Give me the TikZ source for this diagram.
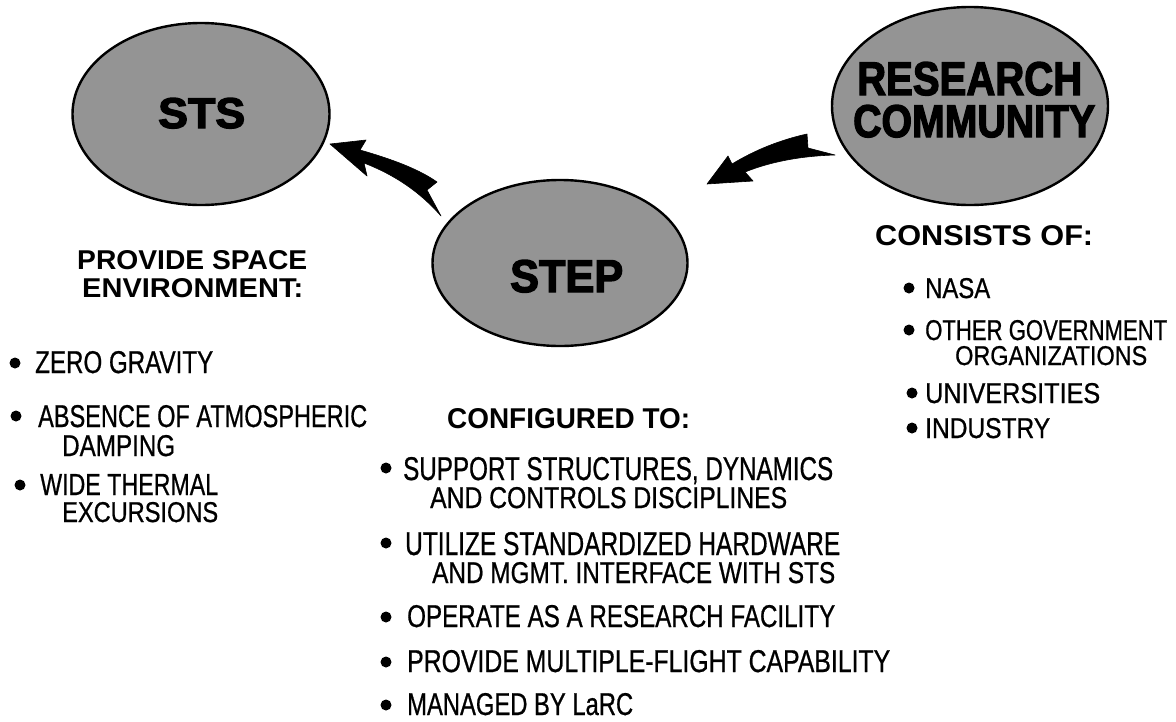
\documentclass[tikz,border=0pt]{standalone}
\usepackage{fontspec}
\usepackage{graphicx}
\setmainfont{Liberation Sans}
\newfontfamily\bodyfont[FakeBold=0.8]{Liberation Sans}
\newfontfamily\headfont{Liberation Sans}
\newfontfamily\ellfont[FakeBold=3]{Liberation Sans}
\usetikzlibrary{shapes.geometric}
\newcommand\fit[3]{\resizebox{#1pt}{#2pt}{#3}}
\begin{document}
\begin{tikzpicture}[x=1pt,y=-1pt,
  bubble/.style={ellipse, draw=black, line width=2.4pt, fill=black!42, inner sep=0pt},
  body/.style={anchor=base west, inner sep=0pt, font=\bodyfont\fontsize{30}{30}\selectfont},
  head/.style={anchor=base west, inner sep=0pt, font=\headfont\bfseries\fontsize{27}{27}\selectfont},
  blabel/.style={anchor=base west, inner sep=0pt, font=\ellfont\bfseries\fontsize{44}{44}\selectfont},
  dot/.style={circle, fill=black, inner sep=0pt, minimum size=11pt},
  bigarrow/.style={fill=black, draw=black, line width=0.6pt, line join=round}
]
\useasboundingbox (0,0) rectangle (1176,721);
\fill[white] (0,0) rectangle (1176,721);

% bubbles
\node[bubble, minimum width=257pt, minimum height=182pt] (sts) at (201,114) {};
\node[bubble, minimum width=276pt, minimum height=198pt] (rc) at (970,106) {};
\node[bubble, minimum width=255pt, minimum height=166pt] (step) at (560,263) {};

\node[blabel] (stsl) at (158,128) {\fit{87}{30}{STS}};
\node[blabel] (rcl1) at (857,95) {\fit{225}{33}{RESEARCH}};
\node[blabel] (rcl2) at (853,137) {\fit{242}{32}{COMMUNITY}};
\node[blabel] (stepl) at (510,292) {\fit{113}{32}{STEP}};

% arrows
\coordinate (a1tip) at (330,144);
\coordinate (a2tip) at (707,184);
\fill[bigarrow] (a1tip) -- (366,140) -- (360,150) .. controls (395,160) and (420,170) .. (437,182) -- (427,190) -- (441,216) .. controls (420,192) and (395,175) .. (364,163) -- (367,176) -- cycle;
\fill[bigarrow] (a2tip) -- (728,156) -- (732,164) .. controls (755,150) and (780,140) .. (807,134) -- (808,148) -- (835,155) .. controls (800,156) and (770,162) .. (745,172) -- (753,181) -- cycle;

% left column
\node[head] (h1a) at (77,269) {\fit{230}{19}{PROVIDE SPACE}};
\node[head] (h1b) at (82,297) {\fit{221}{19}{ENVIRONMENT:}};
\node[dot] (d1) at (15,363) {};
\node[body] (t1) at (35,373) {\fit{178}{22}{ZERO GRAVITY}};
\node[dot] (d2) at (16,416) {};
\node[body] (t2) at (38,427) {\fit{329}{22}{ABSENCE OF ATMOSPHERIC}};
\node[body] (t2b) at (62,456) {\fit{113}{21}{DAMPING}};
\node[dot] (d3) at (20,485) {};
\node[body] (t3) at (40,495) {\fit{178}{21}{WIDE THERMAL}};
\node[body] (t3b) at (62,522) {\fit{156}{20}{EXCURSIONS}};

% middle column
\node[head] (h2) at (447,428) {\fit{243}{20}{CONFIGURED TO:}};
\node[dot] (d4) at (386,468) {};
\node[body] (m1) at (403,480) {\fit{430}{23}{SUPPORT STRUCTURES, DYNAMICS}};
\node[body] (m1b) at (430,508) {\fit{357}{21}{AND CONTROLS DISCIPLINES}};
\node[dot] (d5) at (386,543) {};
\node[body] (m2) at (405,555) {\fit{435}{23}{UTILIZE STANDARDIZED HARDWARE}};
\node[body] (m2b) at (432,583) {\fit{403}{21}{AND MGMT. INTERFACE WITH STS}};
\node[dot] (d6) at (386,617) {};
\node[body] (m3) at (407,627) {\fit{428}{22}{OPERATE AS A RESEARCH FACILITY}};
\node[dot] (d7) at (386,662) {};
\node[body] (m4) at (407,672) {\fit{483}{22}{PROVIDE MULTIPLE-FLIGHT CAPABILITY}};
\node[dot] (d8) at (386,705) {};
\node[body] (m5) at (407,715) {\fit{226}{22}{MANAGED BY LaRC}};

% right column
\node[head] (h3) at (875,245) {\fit{218}{20}{CONSISTS OF:}};
\node[dot] (d9) at (909,288) {};
\node[body] (r1) at (925,298) {\fit{65}{20}{NASA}};
\node[dot] (d10) at (909,330) {};
\node[body] (r2) at (925,340) {\fit{242}{20}{OTHER GOVERNMENT}};
\node[body] (r2b) at (955,365) {\fit{192}{19}{ORGANIZATIONS}};
\node[dot] (d11) at (912,393) {};
\node[body] (r3) at (925,403) {\fit{175}{20}{UNIVERSITIES}};
\node[dot] (d12) at (912,428) {};
\node[body] (r4) at (925,438) {\fit{125}{20}{INDUSTRY}};
\end{tikzpicture}
\end{document}
